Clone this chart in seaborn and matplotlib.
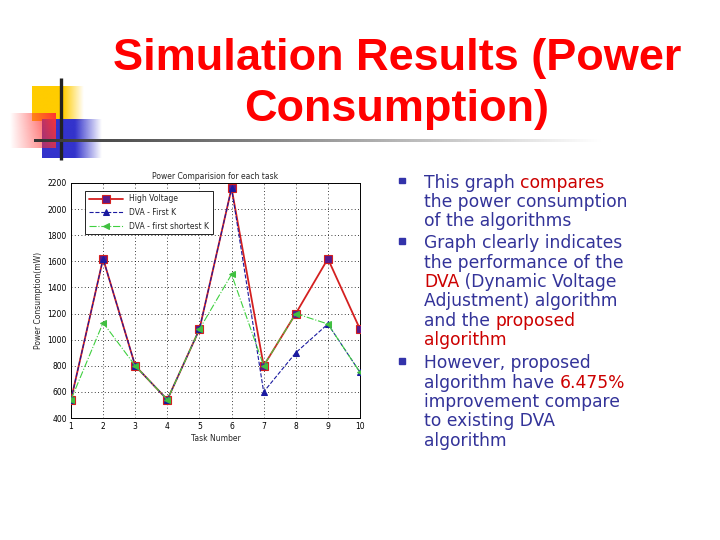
import numpy as np
import pandas as pd
import matplotlib
matplotlib.use("Agg")
import matplotlib.pyplot as plt
import seaborn as sns

# ---------------- data ----------------
tasks = [1, 2, 3, 4, 5, 6, 7, 8, 9, 10]
high_voltage = [540, 1620, 800, 540, 1080, 2160, 800, 1200, 1620, 1080]
dva_first_k = [540, 1620, 800, 540, 1080, 2160, 600, 900, 1120, 750]
dva_shortest_k = [540, 1130, 800, 540, 1080, 1500, 800, 1200, 1120, 750]
series_names = ["High Voltage", "DVA - First K", "DVA - first shortest K"]
y_ticks = [400, 600, 800, 1000, 1200, 1400, 1600, 1800, 2000, 2200]

slide_title = ["Simulation Results (Power", "Consumption)"]
bullet_lines = [
    [[("This graph ", "b"), ("compares", "r")],
     [("the power consumption", "b")],
     [("of the algorithms", "b")]],
    [[("Graph clearly indicates", "b")],
     [("the performance of the", "b")],
     [("DVA", "r"), (" (Dynamic Voltage", "b")],
     [("Adjustment) algorithm", "b")],
     [("and the ", "b"), ("proposed", "r")],
     [("algorithm", "r")]],
    [[("However, proposed", "b")],
     [("algorithm have ", "b"), ("6.475%", "r")],
     [("improvement compare", "b")],
     [("to existing DVA", "b")],
     [("algorithm", "b")]],
]

# ---------------- figure ----------------
sns.set_style("white")
plt.rcParams["font.family"] = ["DejaVu Sans"]
W, H = 720, 540
fig = plt.figure(figsize=(7.2, 5.4), dpi=100)
fig.patch.set_facecolor("white")

# background / decoration axes in pixel coordinates
bg = fig.add_axes([0, 0, 1, 1])
bg.set_xlim(0, W)
bg.set_ylim(H, 0)
bg.axis("off")


def hgrad(rgb, x0, x1, y0, y1, solid_frac, reverse=False, vfade=None, z=1):
    n = 200
    t = np.linspace(0, 1, n)
    a = np.clip((t - solid_frac) / (1 - solid_frac), 0, 1)
    alpha = 1 - a
    if reverse:
        alpha = alpha[::-1]
    img = np.ones((50, n, 4))
    img[..., 0] = rgb[0]
    img[..., 1] = rgb[1]
    img[..., 2] = rgb[2]
    al = np.tile(alpha, (50, 1))
    if vfade is not None:
        v = np.linspace(1.0, vfade, 50)[:, None]
        al = al * v
    img[..., 3] = al
    bg.imshow(img, extent=(x0, x1, y1, y0), aspect="auto", zorder=z,
              interpolation="bilinear")


hgrad((1.0, 0.8, 0.0), 32, 84, 86, 121, 0.6, z=1)
hgrad((0.2, 0.2, 0.8), 42, 102, 119, 158, 0.55, z=1.5)
hgrad((1.0, 0.2, 0.2), 10, 56, 113, 148, 0.0, reverse=True, vfade=0.75, z=2)
bg.set_xlim(0, W)
bg.set_ylim(H, 0)
# vertical line
bg.plot([61, 61], [78, 160], color="#222222", lw=2.4, zorder=3,
        solid_capstyle="butt")
# horizontal gradient line
n = 400
img = np.ones((1, n, 4))
t = np.linspace(0, 1, n)
g = 0.2 + 0.8 * np.clip(t / 0.85, 0, 1)
img[0, :, 0] = g
img[0, :, 1] = g
img[0, :, 2] = g
img[0, :, 3] = 1
bg.imshow(img, extent=(34, 700, 142.5, 139.8), aspect="auto", zorder=3,
          interpolation="bilinear")
bg.set_xlim(0, W)
bg.set_ylim(H, 0)

# slide title
bg.text(397, 70, slide_title[0], color="#FF0000", fontsize=32.5,
        fontweight="bold", family="Liberation Sans", ha="center",
        va="baseline", zorder=5)
bg.text(397, 121, slide_title[1], color="#FF0000", fontsize=32.5,
        fontweight="bold", family="Liberation Sans", ha="center",
        va="baseline", zorder=5)

# bullets
colors = {"b": "#333399", "r": "#CC0000"}
fig.canvas.draw()
renderer = fig.canvas.get_renderer()
baselines = [[187.7, 207.0, 226.4],
             [248.3, 267.7, 287.0, 306.4, 325.8, 345.2],
             [368.3, 387.7, 407.0, 426.4, 445.8]]
fs = 12.3
for bi, group in enumerate(bullet_lines):
    yb = baselines[bi]
    bg.add_patch(plt.Rectangle((399, yb[0] - 10), 5.5, 5.5,
                               color="#3333AA", zorder=5))
    for li, segs in enumerate(group):
        x = 424
        for txt, ck in segs:
            tt = bg.text(x, yb[li], txt, color=colors[ck], fontsize=fs,
                         ha="left", va="baseline", zorder=5)
            bb = tt.get_window_extent(renderer=renderer)
            x += bb.width * (W / fig.bbox.width)

# ---------------- chart ----------------
ax = fig.add_axes([71 / W, (H - 418) / H, 289 / W, 235 / H])
df = pd.DataFrame({"task": tasks, "hv": high_voltage,
                   "fk": dva_first_k, "sk": dva_shortest_k})
sns.lineplot(data=df, x="task", y="hv", ax=ax, color="#D42020", lw=1.3,
             marker="s", markersize=5.5, markerfacecolor="#5A1A8A",
             markeredgecolor="#D42020", markeredgewidth=0.8,
             label=series_names[0], zorder=3)
sns.lineplot(data=df, x="task", y="fk", ax=ax, color="#1A1AA0", lw=0.8,
             linestyle="--", marker="^", markersize=4.5,
             markerfacecolor="#1A1AA0", markeredgecolor="#1A1AA0",
             label=series_names[1], zorder=4)
sns.lineplot(data=df, x="task", y="sk", ax=ax, color="#40D040", lw=0.8,
             linestyle="-.", marker="<", markersize=4.5,
             markerfacecolor="#40C040", markeredgecolor="#40C040",
             label=series_names[2], zorder=5)

ax.set_xlim(1, 10)
ax.set_ylim(400, 2200)
ax.set_xticks(tasks)
ax.set_yticks(y_ticks)
ax.set_xticklabels([str(t) for t in tasks])
ax.set_yticklabels([str(v) for v in y_ticks])
ax.tick_params(direction="in", length=3, width=0.6, labelsize=5.5,
               colors="black", pad=3, top=False, right=False)
ax.grid(True, linestyle=(0, (1, 3)), color="black", lw=0.6)
for s in ax.spines.values():
    s.set_color("black")
    s.set_linewidth(0.7)
ax.set_title("Power Comparision for each task", fontsize=5.5, pad=3)
ax.set_xlabel("Task Number", fontsize=5.5, labelpad=2)
ax.set_ylabel("Power Consumption(mW)", fontsize=5.5, labelpad=3)
leg = ax.legend(loc="upper left", bbox_to_anchor=(0.048, 0.968),
                borderaxespad=0, fontsize=5.5, handlelength=4.5,
                frameon=True, fancybox=False, edgecolor="black",
                framealpha=1, borderpad=0.5, labelspacing=0.6)
leg.get_frame().set_linewidth(0.6)

fig.savefig("out.png", dpi=100, facecolor="white")
